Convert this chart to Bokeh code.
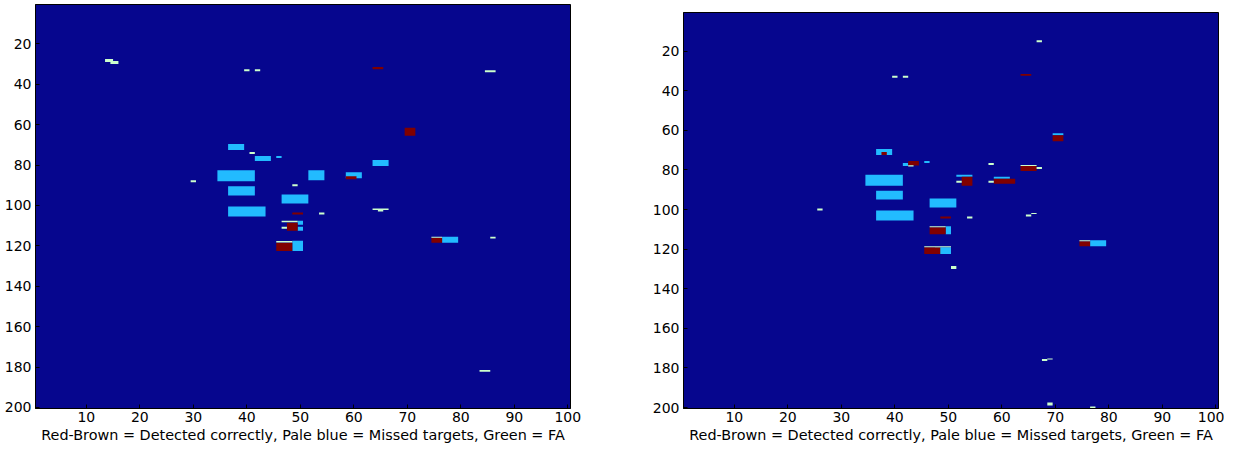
from bokeh.plotting import figure
from bokeh.layouts import row, column
from bokeh.models import Range1d, FixedTicker, Spacer
from bokeh.embed import file_html
from bokeh.resources import INLINE

# ---------------- data ----------------
X_TICKS = [10, 20, 30, 40, 50, 60, 70, 80, 90, 100]
Y_TICKS = [20, 40, 60, 80, 100, 120, 140, 160, 180, 200]
X_LABEL = "Red-Brown = Detected correctly, Pale blue = Missed targets, Green = FA"

# Left panel: cell blocks (column range x0-x1, row range y0-y1)
L_missed_x0 = [36.5, 41.5, 45.5, 63.5, 34.5, 51.5, 58.5, 36.5, 46.5, 36.5, 49.5, 49.5, 48.5, 76.5]
L_missed_x1 = [39.5, 44.5, 46.5, 66.5, 41.5, 54.5, 61.5, 41.5, 51.5, 43.5, 50.5, 50.5, 50.5, 79.5]
L_missed_y0 = [69.5, 75.5, 75.5, 77.5, 82.5, 82.5, 83.5, 90.5, 94.5, 100.5, 107.5, 110.5, 117.5, 115.5]
L_missed_y1 = [72.5, 78.0, 76.5, 80.5, 88.0, 87.5, 86.5, 95.0, 99.0, 105.5, 109.5, 112.5, 122.5, 118.5]

L_det_x0 = [63.5, 69.5, 58.5, 48.5, 47.5, 45.5, 74.5]
L_det_x1 = [65.5, 71.5, 60.5, 50.5, 49.5, 48.5, 76.5]
L_det_y0 = [31.5, 61.5, 85.5, 103.5, 108.5, 118.5, 116.0]
L_det_y1 = [32.5, 65.5, 87.0, 104.5, 112.5, 122.5, 118.5]

L_fa_x0 = [13.5, 14.5, 39.5, 41.5, 84.5, 40.5, 29.5, 48.5, 53.5, 63.5, 64.5, 46.5, 46.5, 45.5, 74.5, 85.5, 83.5]
L_fa_x1 = [15.0, 16.0, 40.5, 42.5, 86.5, 41.5, 30.5, 49.5, 54.5, 66.5, 65.5, 49.5, 47.5, 48.5, 76.5, 86.5, 85.5]
L_fa_y0 = [27.5, 28.5, 32.5, 32.5, 33.0, 73.5, 87.5, 89.5, 103.5, 101.5, 102.0, 107.5, 110.5, 117.6, 115.5, 115.5, 181.5]
L_fa_y1 = [29.0, 30.0, 33.5, 33.5, 34.0, 74.5, 88.5, 90.5, 104.5, 102.2, 103.0, 108.3, 111.5, 118.3, 116.0, 116.3, 182.3]

# Right panel
R_missed_x0 = [69.5, 36.5, 41.5, 45.5, 51.5, 58.5, 34.5, 36.5, 46.5, 36.5, 49.5, 47.5, 76.5]
R_missed_x1 = [71.5, 39.5, 42.5, 46.5, 54.5, 61.5, 41.5, 41.5, 51.5, 43.5, 50.5, 50.5, 79.5]
R_missed_y0 = [61.5, 69.5, 76.5, 75.5, 82.5, 83.5, 82.5, 90.5, 94.5, 100.5, 108.5, 119.0, 115.5]
R_missed_y1 = [62.5, 72.5, 78.0, 76.5, 83.5, 84.5, 88.0, 95.0, 99.0, 105.5, 112.5, 122.5, 118.5]

R_det_x0 = [63.5, 69.5, 37.5, 42.5, 63.5, 52.5, 58.5, 48.5, 46.5, 45.5, 74.5]
R_det_x1 = [65.5, 71.5, 38.5, 44.5, 66.5, 54.5, 62.5, 50.5, 49.5, 48.5, 76.5]
R_det_y0 = [31.5, 62.5, 71.0, 75.5, 78.0, 83.5, 84.5, 103.5, 109.0, 119.0, 116.0]
R_det_y1 = [32.5, 65.5, 72.5, 77.8, 80.5, 88.0, 87.0, 104.5, 112.5, 122.5, 118.5]

R_fa_x0 = [66.5, 39.5, 41.5, 42.5, 57.5, 63.5, 66.5, 51.5, 57.5, 25.5, 53.5, 64.5, 65.5, 46.5, 45.5, 50.5, 74.5, 67.5, 68.5, 68.5, 76.5]
R_fa_x1 = [67.5, 40.5, 42.5, 43.5, 58.5, 66.5, 67.5, 52.5, 58.5, 26.5, 54.5, 65.5, 66.5, 49.5, 50.5, 51.5, 76.5, 68.5, 69.5, 69.5, 77.5]
R_fa_y0 = [14.5, 32.5, 32.5, 77.6, 76.5, 77.5, 78.5, 85.5, 85.5, 99.5, 103.5, 102.5, 101.8, 108.5, 118.5, 128.5, 115.5, 175.5, 175.2, 197.5, 199.5]
R_fa_y1 = [15.5, 33.5, 33.5, 78.3, 77.5, 78.0, 79.5, 86.5, 86.5, 100.5, 104.5, 103.5, 102.3, 109.0, 119.0, 130.0, 116.0, 176.5, 175.7, 199.0, 200.2]

# ---------------- style ----------------
BG = "#06068E"
C_MISSED = "#22BBFF"
C_DET = "#800000"
C_FA = "#CCFFCC"
FONT = "DejaVu Sans"


def panel(missed, det, fa, fw, fh, bl, br, bb):
    p = figure(frame_width=fw, frame_height=fh,
               x_range=Range1d(0.5, 100.5), y_range=Range1d(200.5, 0.5),
               output_backend="svg", toolbar_location=None,
               min_border_left=bl, min_border_right=br,
               min_border_top=0, min_border_bottom=bb)
    p.background_fill_color = BG
    p.border_fill_color = "white"
    p.outline_line_color = "black"
    p.outline_line_width = 1
    p.xgrid.visible = False
    p.ygrid.visible = False
    for (x0, x1, y0, y1), col in ((missed, C_MISSED), (det, C_DET), (fa, C_FA)):
        p.quad(left=x0, right=x1, top=y0, bottom=y1,
               fill_color=col, line_color=None)
    p.xaxis.ticker = FixedTicker(ticks=X_TICKS)
    p.yaxis.ticker = FixedTicker(ticks=Y_TICKS)
    p.xaxis.minor_tick_line_color = None
    p.yaxis.minor_tick_line_color = None
    for ax in (p.xaxis[0], p.yaxis[0]):
        ax.major_tick_in = 4
        ax.major_tick_out = 0
        ax.major_tick_line_color = "black"
        ax.axis_line_color = "black"
        ax.major_label_text_font = FONT
        ax.major_label_text_font_size = "14px"
        ax.major_label_text_color = "black"
        ax.major_label_text_line_height = 1.0
    p.xaxis.major_label_standoff = 3
    p.yaxis.major_label_standoff = 4
    p.xaxis.axis_label = X_LABEL
    p.xaxis.axis_label_text_font = FONT
    p.xaxis.axis_label_text_font_size = "14.4px"
    p.xaxis.axis_label_text_font_style = "normal"
    p.xaxis.axis_label_text_color = "black"
    p.xaxis.axis_label_text_line_height = 1.0
    p.xaxis.axis_label_standoff = 2
    return p


p1 = panel((L_missed_x0, L_missed_x1, L_missed_y0, L_missed_y1),
           (L_det_x0, L_det_x1, L_det_y0, L_det_y1),
           (L_fa_x0, L_fa_x1, L_fa_y0, L_fa_y1),
           535, 404, 35, 53, 39)
p2 = panel((R_missed_x0, R_missed_x1, R_missed_y0, R_missed_y1),
           (R_det_x0, R_det_x1, R_det_y0, R_det_y1),
           (R_fa_x0, R_fa_x1, R_fa_y0, R_fa_y1),
           535, 396, 60, 6, 39)

layout = row(column(Spacer(height=4), p1, spacing=0),
             column(Spacer(height=12), p2, spacing=0), spacing=0)
open("out.html", "w").write(file_html(layout, INLINE))
